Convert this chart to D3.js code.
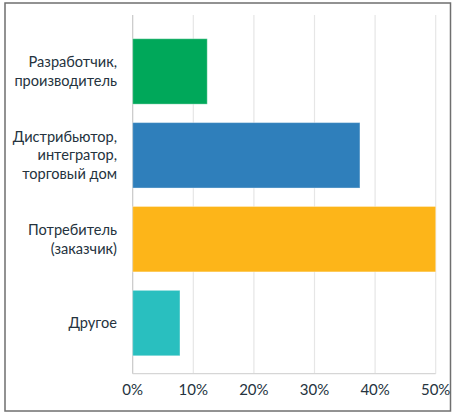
<!DOCTYPE html>
<html>
<head>
<meta charset="utf-8">
<script src="https://cdn.jsdelivr.net/npm/d3@7"></script>
<style>
  body { margin: 0; background: #fff; }
  svg { display: block; font-family: Lato, "Open Sans", sans-serif; }
</style>
</head>
<body>
<svg id="chart" width="456" height="419"></svg>
<script>
// chart data
const categories = [
  ["Разработчик,", "производитель"],
  ["Дистрибьютор,", "интегратор,", "торговый дом"],
  ["Потребитель", "(заказчик)"],
  ["Другое"]
];
const values = [12.3, 37.5, 50, 7.8];
const colors = ["#00a85a", "#2f7fbb", "#fdb519", "#29bfbf"];
const ticks = [0, 10, 20, 30, 40, 50];

const svg = d3.select("#chart");
const plotLeft = 132.7, plotRight = 435.7;
const gridTop = 15, axisY = 373.7;

// frame
svg.append("rect")
  .attr("x", 5).attr("y", 3)
  .attr("width", 445.5).attr("height", 408)
  .attr("fill", "none")
  .attr("stroke", "#6f6f6f")
  .attr("stroke-width", 1.5);

const x = d3.scaleLinear().domain([0, 50]).range([plotLeft, plotRight]);
const y = d3.scaleBand()
  .domain(d3.range(categories.length))
  .range([29.5, 365])
  .paddingInner(0.22)
  .paddingOuter(0.11);

// grid
svg.append("g").selectAll("line")
  .data(ticks)
  .enter().append("line")
  .attr("x1", d => x(d)).attr("x2", d => x(d))
  .attr("y1", gridTop).attr("y2", axisY)
  .attr("stroke", d => d === 0 ? "#c8c8c8" : "#e6e6e6")
  .attr("stroke-width", 1.2);

svg.append("line")
  .attr("x1", plotLeft).attr("x2", plotRight)
  .attr("y1", axisY).attr("y2", axisY)
  .attr("stroke", "#d6d6d6")
  .attr("stroke-width", 1.2);

// bars
svg.append("g").selectAll("rect")
  .data(values)
  .enter().append("rect")
  .attr("x", x(0))
  .attr("y", (d, i) => y(i))
  .attr("width", d => x(d) - x(0))
  .attr("height", y.bandwidth())
  .attr("fill", (d, i) => colors[i])
  .attr("stroke", "rgba(255,255,255,0.35)")
  .attr("stroke-width", 1);

// category labels
const labels = svg.append("g").selectAll("text")
  .data(categories)
  .enter().append("text")
  .attr("text-anchor", "end")
  .attr("fill", "#25333e")
  .attr("font-size", 14.6)
  .attr("transform", (d, i) => `translate(117,${y(i) + y.bandwidth() / 2})`);

labels.each(function (lines) {
  const t = d3.select(this);
  const lh = 18.7;
  const start = -(lines.length - 1) * lh / 2;
  lines.forEach((ln, k) => {
    t.append("tspan")
      .attr("x", 0)
      .attr("y", start + k * lh)
      .attr("dy", "0.35em")
      .text(ln);
  });
});

// x axis labels
svg.append("g").selectAll("text")
  .data(ticks)
  .enter().append("text")
  .attr("x", d => x(d))
  .attr("y", 390)
  .attr("dy", "0.35em")
  .attr("text-anchor", "middle")
  .attr("fill", "#25333e")
  .attr("font-size", 15)
  .text(d => d + "%");
</script>
</body>
</html>
